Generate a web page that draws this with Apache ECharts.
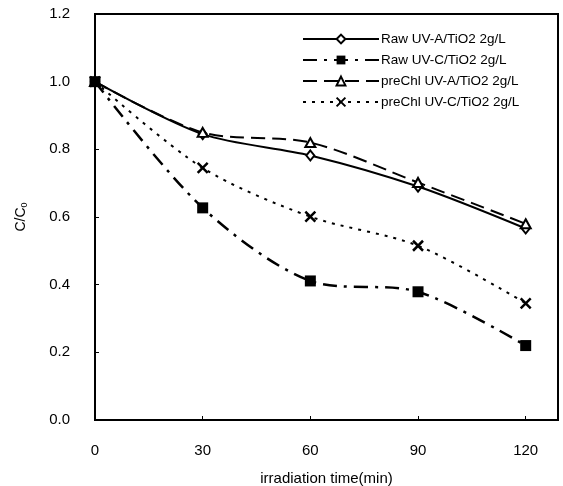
<!DOCTYPE html>
<html><head><meta charset="utf-8">
<script src="https://cdn.jsdelivr.net/npm/echarts@6/dist/echarts.min.js"></script>
<style>html,body{margin:0;padding:0;background:#fff}#c{width:563px;height:486px}</style>
</head><body><div id="c"></div>
<script>
const times = [0, 30, 60, 90, 120];
const rawUVA = [1.0, 0.845, 0.782, 0.690, 0.566];
const rawUVC = [1.0, 0.627, 0.411, 0.379, 0.220];
const preUVA = [1.0, 0.850, 0.820, 0.702, 0.580];
const preUVC = [1.0, 0.745, 0.601, 0.515, 0.345];
const names = ['Raw UV-A/TiO2 2g/L', 'Raw UV-C/TiO2 2g/L', 'preChl UV-A/TiO2 2g/L', 'preChl UV-C/TiO2 2g/L'];
const xTicks = [0, 30, 60, 90, 120];
const font = 'Liberation Sans, Arial, sans-serif';
function pts(v){ return times.map((t,i)=>[t, v[i]]); }
const chart = echarts.init(document.getElementById('c'));
const common = {type:'line', smooth:0.3, showAllSymbol:true};
chart.setOption({
  animation:false,
  backgroundColor:'#fff',
  textStyle:{fontFamily:font, color:'#000'},
  grid:{left:95, right:5, top:14, bottom:66, show:true, borderColor:'#000', borderWidth:2,
    containLabel:false, outerBoundsMode:'none'},
  legend:{orient:'vertical', left:297, top:27, itemWidth:76, itemHeight:11, itemGap:7,
    textStyle:{fontFamily:font, fontSize:13.5, color:'#000', padding:[0,0,0,-3]},
    data:names},
  xAxis:{type:'value', min:0, max:129, interval:30,
    name:'irradiation time(min)', nameLocation:'middle', nameGap:51,
    nameTextStyle:{fontFamily:font, fontSize:15, color:'#000'},
    axisLine:{show:true, lineStyle:{color:'#000', width:2}},
    axisTick:{show:true, inside:true, length:4, lineStyle:{color:'#000'}},
    axisLabel:{fontFamily:font, fontSize:15, color:'#000', margin:23,
      formatter:v=> xTicks.indexOf(v) >= 0 ? String(v) : ''},
    splitLine:{show:false}},
  yAxis:{type:'value', min:0, max:1.2, interval:0.2,
    name:'C/C{s|0}', nameLocation:'middle', nameGap:66, nameRotate:90,
    nameTextStyle:{fontFamily:font, fontSize:14, color:'#000',
      rich:{s:{fontFamily:font, fontSize:9, color:'#000', verticalAlign:'bottom', padding:[6,0,0,0]}}},
    axisLine:{show:true, lineStyle:{color:'#000', width:2}},
    axisTick:{show:true, inside:true, length:4, lineStyle:{color:'#000'}},
    axisLabel:{fontFamily:font, fontSize:15, color:'#000', margin:25, formatter:v=>v.toFixed(1)},
    splitLine:{show:false}},
  series:[
    Object.assign({}, common, {name:names[0], data:pts(rawUVA), z:3,
      symbol:'emptyDiamond', symbolSize:[8,10],
      lineStyle:{color:'#000', width:2, type:'solid'},
      itemStyle:{color:'#000', borderColor:'#000', borderWidth:1.5}}),
    Object.assign({}, common, {name:names[1], data:pts(rawUVC), z:6,
      symbol:'rect', symbolSize:11,
      lineStyle:{color:'#000', width:2.5, type:[14,7,3,7]},
      itemStyle:{color:'#000', borderColor:'#000', borderWidth:0}}),
    Object.assign({}, common, {name:names[2], data:pts(preUVA), z:4,
      symbol:'emptyTriangle', symbolSize:[10,9],
      lineStyle:{color:'#000', width:2, type:[14,7]},
      itemStyle:{color:'#000', borderColor:'#000', borderWidth:1.5}}),
    Object.assign({}, common, {name:names[3], data:pts(preUVC), z:5,
      symbol:'path://M0,0L10,10M10,0L0,10', symbolSize:10,
      lineStyle:{color:'#000', width:2, type:[3,6]},
      itemStyle:{color:'none', borderColor:'#000', borderWidth:2.5}})
  ]
});
</script></body></html>
